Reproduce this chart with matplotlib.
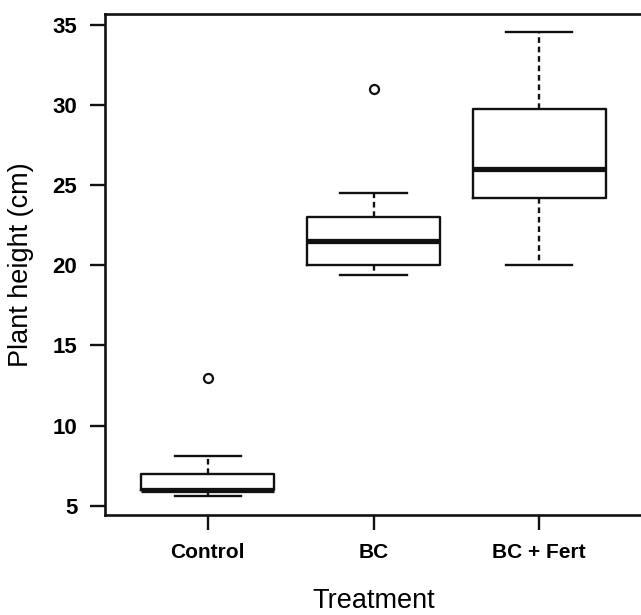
import matplotlib
matplotlib.use("Agg")
import matplotlib.pyplot as plt

categories = ["Control", "BC", "BC + Fert"]
whisker_low = [5.6, 19.4, 20.0]
q1 = [5.95, 20.0, 24.2]
median = [6.0, 21.55, 26.0]
q3 = [7.0, 23.0, 29.75]
whisker_high = [8.1, 24.5, 34.55]
outliers = [[13.0], [31.0], []]
yticks = [5, 10, 15, 20, 25, 30, 35]

plt.rcParams['font.family'] = ['Liberation Sans', 'DejaVu Sans']

fig = plt.figure(figsize=(6.41, 6.15), dpi=100)
ax = fig.add_axes([105/641, 100/615, 537/641, 501/615])

stats = []
for i, c in enumerate(categories):
    stats.append(dict(label=c, whislo=whisker_low[i], q1=q1[i], med=median[i],
                      q3=q3[i], whishi=whisker_high[i], fliers=outliers[i]))

lc = '#111111'
ax.bxp(stats, positions=[1, 2, 3], widths=0.8, capwidths=0.4,
       boxprops=dict(color=lc, linewidth=1.7),
       medianprops=dict(color=lc, linewidth=3.8, solid_capstyle='butt'),
       whiskerprops=dict(color=lc, linewidth=1.7, linestyle=(0, (2.4, 1.6))),
       capprops=dict(color=lc, linewidth=1.7),
       flierprops=dict(marker='o', markerfacecolor='white', markeredgecolor=lc,
                       markersize=6.5, markeredgewidth=1.6))

ax.set_xlim(0.38, 3.62)
ax.set_ylim(4.42, 35.69)
ax.set_yticks(yticks)
ax.set_yticklabels([str(v) for v in yticks], fontsize=16, fontweight='bold')
ax.set_xticks([1, 2, 3])
ax.set_xticklabels(categories, fontsize=15, fontweight='bold')
ax.tick_params(axis='both', direction='out', length=11, width=1.7, color=lc)
ax.tick_params(axis='y', pad=9)
ax.tick_params(axis='x', pad=9)
for s in ax.spines.values():
    s.set_linewidth(1.9)
    s.set_color(lc)

ax.set_ylabel("Plant height (cm)", fontsize=19.5, labelpad=13)
ax.set_xlabel("Treatment", fontsize=19.5, labelpad=19)

fig.savefig("out.png", dpi=100)
